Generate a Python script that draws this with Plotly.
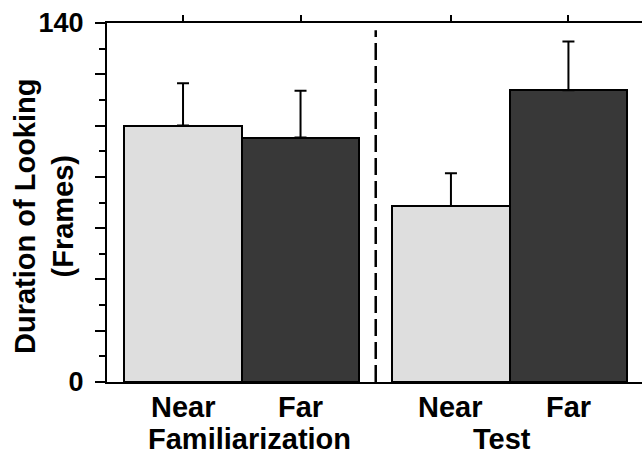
import plotly.graph_objects as go

# ---- data ----
groups = ["Familiarization", "Test"]
conditions = ["Near", "Far"]
fam_means = [100.0, 95.3]
fam_errors = [16.5, 18.3]
test_means = [68.6, 113.8]
test_errors = [12.8, 19.0]
y_tick_values = [0, 20, 40, 60, 80, 100, 120, 140]
y_tick_labels = ["0", "", "", "", "", "", "", "140"]
y_title = "Duration of Looking<br>(Frames)"

# ---- layout constants ----
group_gap = 0.28
bar_colors = {"Near": "#dedede", "Far": "#383838"}
FONT = "Liberation Sans, Arial, sans-serif"
FS = 29

means = [fam_means, test_means]
errors = [fam_errors, test_errors]

xs, ys, es, cols = [], [], [], []
for gi, g in enumerate(groups):
    for ci, c in enumerate(conditions):
        xs.append(gi * (len(conditions) + group_gap) + ci)
        ys.append(means[gi][ci])
        es.append(errors[gi][ci])
        cols.append(bar_colors[c])

fig = go.Figure()
fig.add_trace(go.Bar(
    x=xs, y=ys, width=1.0,
    marker=dict(color=cols, line=dict(color="black", width=2)),
    error_y=dict(type="data", array=es, arrayminus=[0] * len(es), symmetric=False,
                 color="black", thickness=2, width=6),
    showlegend=False, hoverinfo="skip",
))
# invisible trace to anchor the top axis
fig.add_trace(go.Scatter(x=xs, y=ys, mode="none", xaxis="x2", showlegend=False, hoverinfo="skip"))

x_left = xs[0] - 0.647
x_right = x_left + 4.553
sep_x = (xs[1] + xs[2]) / 2

fig.update_layout(
    width=642, height=454,
    margin=dict(l=107, r=0, t=23, b=72, autoexpand=False),
    plot_bgcolor="white", paper_bgcolor="white",
    font=dict(family=FONT, color="black"),
    xaxis=dict(range=[x_left, x_right], showline=True, linecolor="black", linewidth=2,
               showticklabels=False, ticks="", showgrid=False, zeroline=False),
    xaxis2=dict(range=[x_left, x_right], overlaying="x", side="top", matches="x",
                showline=True, linecolor="black", linewidth=2,
                tickvals=xs, ticks="outside", ticklen=6, tickwidth=2, tickcolor="black",
                showticklabels=False, showgrid=False, zeroline=False),
    yaxis=dict(range=[0, 140], showline=True, linecolor="black", linewidth=2,
               tickvals=y_tick_values, ticktext=y_tick_labels,
               ticks="outside", ticklen=10, tickwidth=2, tickcolor="black",
               ticklabelstandoff=6,
               minor=dict(dtick=10, ticks="outside", ticklen=6, tickwidth=2, tickcolor="black"),
               tickfont=dict(family=FONT, size=27, color="black", weight="bold"),
               showgrid=False, zeroline=False),
    bargap=0,
)

# dashed separator
fig.add_shape(type="line", xref="x", yref="paper", x0=sep_x, x1=sep_x, y0=0, y1=0.98,
              line=dict(color="black", width=2.5, dash="17px,6px"))

ann = []
for x, c in zip(xs, [c for g in groups for c in conditions]):
    ann.append(dict(x=x, y=-0.0696, xref="x", yref="paper", text=f"<b>{c}</b>",
                    showarrow=False, xanchor="center", yanchor="middle",
                    font=dict(family=FONT, size=FS, color="black")))
group_shift = [8, -8]
for gi, g in enumerate(groups):
    gx = sum(xs[gi * len(conditions):(gi + 1) * len(conditions)]) / len(conditions)
    ann.append(dict(x=gx, y=-0.158, xref="x", yref="paper", text=f"<b>{g}</b>",
                    showarrow=False, xanchor="center", yanchor="middle", xshift=group_shift[gi],
                    font=dict(family=FONT, size=FS, color="black")))
ann.append(dict(x=-0.1178, y=(382 - 216) / 359, xref="paper", yref="paper",
                text=f"<b>{y_title}</b>", textangle=-90, showarrow=False,
                xanchor="center", yanchor="middle",
                font=dict(family=FONT, size=FS, color="black")))
fig.update_layout(annotations=ann)

fig.write_html("out.html", config={"displayModeBar": False},
               post_script="document.body.style.margin='0';document.body.style.overflow='hidden';")
